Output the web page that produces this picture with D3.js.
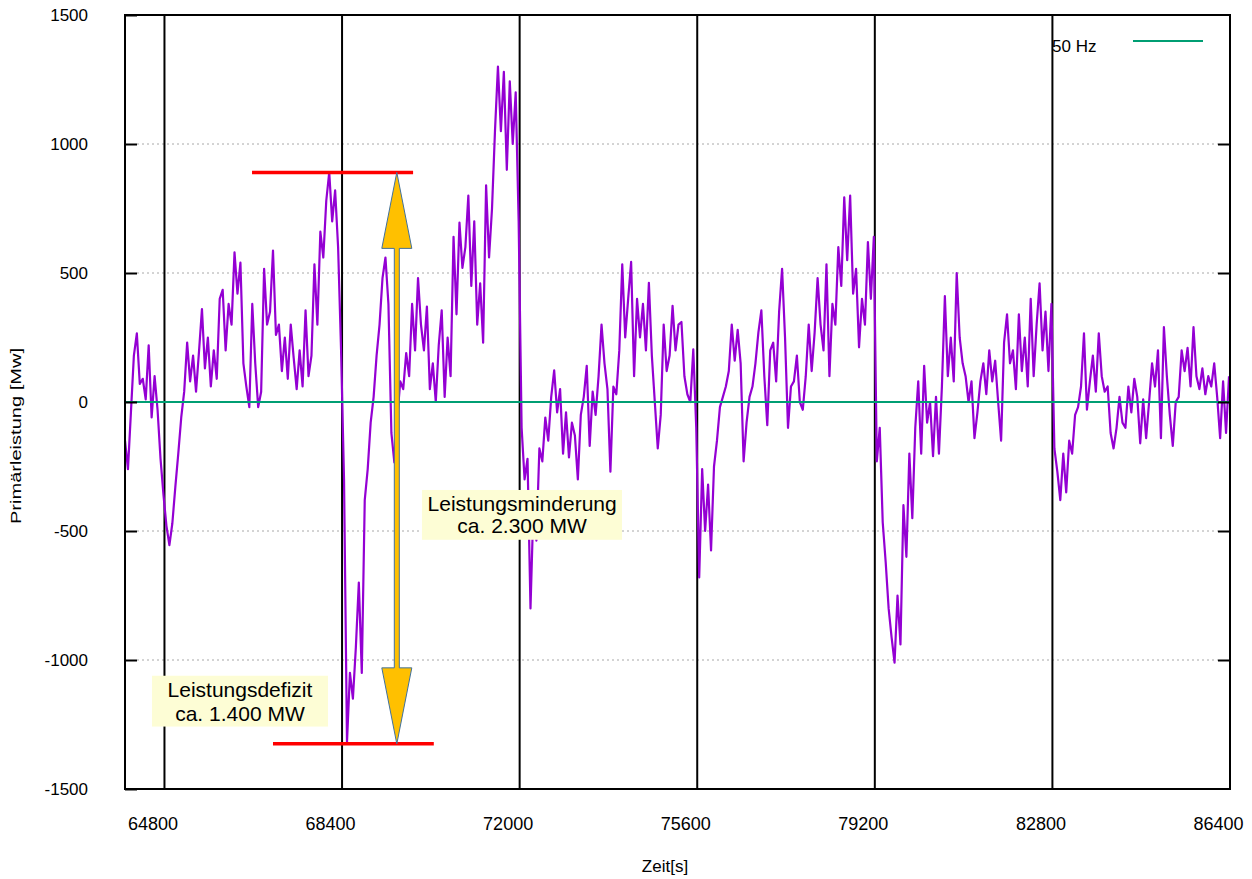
<!DOCTYPE html>
<html>
<head>
<meta charset="utf-8">
<script src="https://cdn.jsdelivr.net/npm/d3@7"></script>
<style>
body { margin: 0; background: #fff; }
text { font-family: "Liberation Sans", Arial, sans-serif; fill: #000; }
</style>
</head>
<body>
<script>
// Zeitreihe: ein Wert pro 60 s ab 64000 s
var zeitStart = 64000,
    zeitSchritt = 60;

var primaer = [
  -150, -260, -40, 180, 266, 70, 90, 10, 220, -60,
  100, -30, -220, -360, -480, -555, -470, -330, -200, -60,
  40, 230, 80, 180, 40, 195, 360, 130, 250, 60,
  200, 90, 400, 435, 200, 380, 300, 580, 420, 540,
  150, 60, -20, 380, 150, -20, 40, 516, 300, 350,
  587, 260, 300, 120, 250, 90, 300, 170, 50, 200,
  60, 355, 100, 180, 534, 300, 660, 560, 780, 890,
  700, 820, 600, 200, -300, -1320, -1050, -1150, -950, -700,
  -1050, -380, -260, -80, 20, 180, 300, 480, 560, 380,
  -120, -234, -60, 80, 50, 190, 100, 380, 200, 480,
  300, 200, 370, 50, 150, 0, 220, 355, 20, 250,
  100, 640, 340, 695, 520, 600, 800, 450, 700, 300,
  460, 230, 840, 560, 750, 1050, 1300, 1050, 1280, 900,
  1243, 1000, 1200, 700, -100, -300, -220, -800, -400, -537,
  -180, -230, -60, -150, 20, 123, -40, 50, -200, -40,
  -215, -80, -130, -300, -50, 20, 140, -170, 40, -50,
  100, 300, 150, 50, -270, 60, 30, 200, 534, 250,
  400, 543, 100, 400, 250, 380, 200, 462, 180, 0,
  -180, -50, 300, 120, 180, 373, 200, 300, 310, 100,
  30, 0, 204, -100, -680, -260, -500, -320, -575, -250,
  -150, -20, 20, 60, 120, 300, 160, 280, 150, -230,
  -80, 20, 60, 150, 270, 355, 100, -90, 200, 230,
  80, 350, 516, 250, -100, 60, 80, 180, 0, -30,
  100, 300, 120, 270, 480, 300, 200, 534, 100, 380,
  300, 600, 450, 793, 550, 800, 420, 516, 212, 400,
  300, 620, 400, 640, -230, -100, -466, -620, -800, -912,
  -1010, -750, -940, -400, -600, -200, -450, -100, 80, -200,
  140, -80, 0, -210, 20, -200, 60, 410, 100, 250,
  80, 500, 250, 150, 100, 0, 80, -140, -40, 80,
  150, 30, 200, 80, 160, 0, -150, 230, 340, 150,
  200, 50, 340, 120, 250, 60, 400, 100, 300, 460,
  200, 350, 120, 380, -180, -270, -380, -200, -350, -150,
  -200, -50, -20, 60, 266, -30, 80, 180, 40, 266,
  100, 40, 60, -120, -180, -100, 20, -80, -100, 60,
  -40, 90, 20, -160, 10, -140, 0, 150, 60, 200,
  -140, 290, 100, -50, -170, 0, 20, 200, 120, 210,
  60, 290, 100, 50, 130, 30, 100, 60, 150, 20,
  -140, 80, -120, 100
];

var hz50Zeit = [64000, 86400],
    hz50Wert = [0, 0];

var xTicks = [64800, 68400, 72000, 75600, 79200, 82800, 86400];
var yTicks = [-1500, -1000, -500, 0, 500, 1000, 1500];

// Annotationen (in Datenkoordinaten)
var rotLinien = [
  {von: 66575, bis: 69840, wert: 890},
  {von: 67000, bis: 70260, wert: -1325}
];
var pfeil = {zeit: 69510, oben: 890, unten: -1325};
var boxen = [
  {zeilen: ['Leistungsminderung', 'ca. 2.300 MW'], mitte: 72050, links: 70020, rechts: 74075, oben: -341, unten: -534, basis: [-422, -507]},
  {zeilen: ['Leistungsdefizit', 'ca. 1.400 MW'], mitte: 66330, links: 64547, rechts: 68115, oben: -1061, unten: -1258, basis: [-1142, -1235]}
];

var width = 1252,
    height = 879,
    pLeft = 125, pRight = 1230, pTop = 15, pBottom = 789;

var x = d3.scaleLinear().domain([64000, 86400]).range([pLeft, pRight]);
var y = d3.scaleLinear().domain([-1500, 1500]).range([pBottom, pTop]);

var svg = d3.select("body").append("svg")
    .attr("width", width)
    .attr("height", height);

// horizontale Gitterlinien
svg.selectAll(".hgrid")
    .data(yTicks.filter(function(d) { return d > -1500 && d < 1500; }))
    .enter().append("line")
    .attr("class", "hgrid")
    .attr("x1", pLeft + 12).attr("x2", pRight - 12)
    .attr("y1", function(d) { return y(d); })
    .attr("y2", function(d) { return y(d); })
    .style("stroke", "#a8a8a8")
    .style("stroke-width", 1)
    .style("stroke-dasharray", "2,3");

// senkrechte Linien
svg.selectAll(".vgrid")
    .data(xTicks.filter(function(d) { return d < 86400; }))
    .enter().append("line")
    .attr("class", "vgrid")
    .attr("x1", function(d) { return x(d); })
    .attr("x2", function(d) { return x(d); })
    .attr("y1", pTop).attr("y2", pBottom)
    .style("stroke", "#000")
    .style("stroke-width", 2);

var line = d3.line()
    .x(function(d, i) { return x(zeitStart + i * zeitSchritt); })
    .y(function(d) { return y(d); });

svg.append("path")
    .datum(primaer)
    .attr("d", line)
    .style("fill", "none")
    .style("stroke", "#9400d3")
    .style("stroke-width", 2.2)
    .style("stroke-linejoin", "round");

var line50 = d3.line()
    .x(function(d, i) { return x(hz50Zeit[i]); })
    .y(function(d) { return y(d); });

svg.append("path")
    .datum(hz50Wert)
    .attr("d", line50)
    .style("fill", "none")
    .style("stroke", "#009e73")
    .style("stroke-width", 2);

// Rahmen
svg.append("rect")
    .attr("x", pLeft).attr("y", pTop)
    .attr("width", pRight - pLeft).attr("height", pBottom - pTop)
    .style("fill", "none")
    .style("stroke", "#000")
    .style("stroke-width", 2);

// Achsen
var yAxis = svg.append("g")
    .attr("transform", "translate(" + pLeft + ",0)")
    .call(d3.axisLeft(y).tickValues(yTicks).tickSize(-12).tickPadding(37).tickFormat(function(d) { return String(d); }));
yAxis.select(".domain").remove();
yAxis.selectAll("line").style("stroke-width", 2);
yAxis.selectAll("text").style("font-size", "17px").style("font-family", '"Liberation Sans", Arial, sans-serif');

var yAxisR = svg.append("g")
    .attr("transform", "translate(" + pRight + ",0)")
    .call(d3.axisRight(y).tickValues(yTicks.filter(function(d) { return d > -1500 && d < 1500; })).tickSize(-12).tickFormat(""));
yAxisR.select(".domain").remove();
yAxisR.selectAll("line").style("stroke-width", 2);

var xAxis = svg.append("g")
    .attr("transform", "translate(0," + pBottom + ")")
    .call(d3.axisBottom(x).tickValues(xTicks).tickSize(0).tickPadding(28).tickFormat(function(d) { return String(d); }));
xAxis.select(".domain").remove();
xAxis.selectAll("text")
    .attr("dx", -12)
    .style("font-size", "18px")
    .style("font-family", '"Liberation Sans", Arial, sans-serif');

svg.append("text")
    .attr("x", 665).attr("y", 872)
    .attr("text-anchor", "middle")
    .style("font-size", "17px")
    .text("Zeit[s]");

svg.append("text")
    .attr("transform", "translate(21,436) rotate(-90)")
    .attr("text-anchor", "middle")
    .attr("textLength", 176)
    .attr("lengthAdjust", "spacingAndGlyphs")
    .style("font-size", "15px")
    .text("Primärleistung [Mw]");

// Legende
svg.append("text")
    .attr("x", 1052).attr("y", 52)
    .style("font-size", "17px")
    .text("50 Hz");
svg.append("line")
    .attr("x1", 1133).attr("x2", 1203)
    .attr("y1", 41).attr("y2", 41)
    .style("stroke", "#009e73")
    .style("stroke-width", 2);

// rote Linien
svg.selectAll(".rot")
    .data(rotLinien)
    .enter().append("line")
    .attr("class", "rot")
    .attr("x1", function(d) { return x(d.von); })
    .attr("x2", function(d) { return x(d.bis); })
    .attr("y1", function(d) { return y(d.wert); })
    .attr("y2", function(d) { return y(d.wert); })
    .style("stroke", "#ff0000")
    .style("stroke-width", 3.5);

// Doppelpfeil
var px = x(pfeil.zeit), yo = y(pfeil.oben), yu = y(pfeil.unten);
var kopf = 76, kb = 15, sb = 2.5;
var pfad = d3.path();
pfad.moveTo(px, yo);
pfad.lineTo(px + kb, yo + kopf);
pfad.lineTo(px + sb, yo + kopf);
pfad.lineTo(px + sb, yu - kopf);
pfad.lineTo(px + kb, yu - kopf);
pfad.lineTo(px, yu);
pfad.lineTo(px - kb, yu - kopf);
pfad.lineTo(px - sb, yu - kopf);
pfad.lineTo(px - sb, yo + kopf);
pfad.lineTo(px - kb, yo + kopf);
pfad.closePath();
svg.append("path")
    .attr("d", pfad.toString())
    .style("fill", "#ffc000")
    .style("stroke", "#41719c")
    .style("stroke-width", 1);

// Textboxen
var box = svg.selectAll(".box")
    .data(boxen)
    .enter().append("g")
    .attr("class", "box");

box.append("rect")
    .attr("x", function(d) { return x(d.links); })
    .attr("y", function(d) { return y(d.oben); })
    .attr("width", function(d) { return x(d.rechts) - x(d.links); })
    .attr("height", function(d) { return y(d.unten) - y(d.oben); })
    .style("fill", "#fdfdd5");

box.each(function(d) {
    var g = d3.select(this);
    d.zeilen.forEach(function(z, i) {
        g.append("text")
            .attr("x", x(d.mitte))
            .attr("y", y(d.basis[i]))
            .attr("text-anchor", "middle")
            .style("font-size", "21px")
            .text(z);
    });
});
</script>
</body>
</html>
